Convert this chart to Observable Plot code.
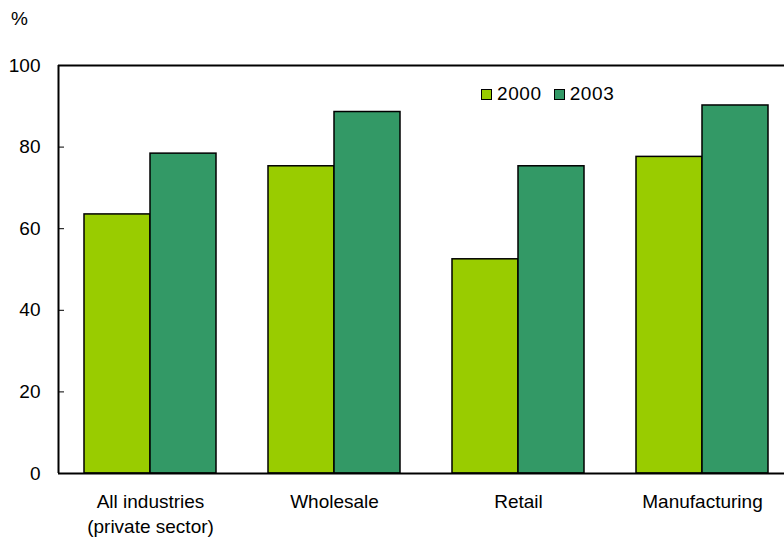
<!DOCTYPE html>
<html><head><meta charset="utf-8">
<script src="https://cdn.jsdelivr.net/npm/d3@7"></script>
<script src="https://cdn.jsdelivr.net/npm/@observablehq/plot@0.6"></script>
<style>
body{margin:0;background:#fff;font-family:"Liberation Sans",Arial,sans-serif;}
#wrap{position:relative;width:784px;height:540px;}
.leg{position:absolute;top:83px;left:481px;font-size:19px;letter-spacing:0.6px;display:flex;align-items:center;color:#000;}
.sw{display:inline-block;width:9px;height:9px;border:1.5px solid #000;margin-right:5px;}
</style></head><body>
<div id="wrap"></div>
<script>
const categories = ["All industries\n(private sector)", "Wholesale", "Retail", "Manufacturing"];
const years = ["2000", "2003"];
const values2000 = [63.5, 75.3, 52.5, 77.6];
const values2003 = [78.4, 88.6, 75.3, 90.2];
const yTicks = [0, 20, 40, 60, 80, 100];
const colors = ["#99CC00", "#339966"];

const data = [];
categories.forEach((c, i) => {
  data.push({category: c, year: years[0], value: values2000[i]});
  data.push({category: c, year: years[1], value: values2003[i]});
});

const chart = Plot.plot({
  width: 784,
  height: 540,
  marginLeft: 58,
  marginTop: 65,
  marginBottom: 67,
  marginRight: 0,
  style: {fontFamily: "'Liberation Sans', Arial, sans-serif", fontSize: "19px", color: "#000", background: "#fff"},
  x: {domain: categories, range: [58, 794], paddingInner: 0, paddingOuter: 0},
  y: {domain: [0, 100]},
  color: {domain: years, range: colors},
  marks: [
    Plot.barY(data.filter(d => d.year === years[0]), {x: "category", y: "value", fill: "year", stroke: "#000", strokeWidth: 1.5, insetLeft: 26, insetRight: 92}),
    Plot.barY(data.filter(d => d.year === years[1]), {x: "category", y: "value", fill: "year", stroke: "#000", strokeWidth: 1.5, insetLeft: 92, insetRight: 26}),
    Plot.ruleY([0], {stroke: "#000", strokeWidth: 2}),
    Plot.ruleY([100], {stroke: "#000", strokeWidth: 2}),
    Plot.ruleX([0], {x: () => categories[0], dx: -92, y1: 0, y2: 100, stroke: "#000", strokeWidth: 2}),
    Plot.axisY({ticks: yTicks, tickSize: -6, tickPadding: 24, label: null, fontSize: 19}),
    Plot.axisX({tickSize: 0, tickPadding: 17, label: null, fontSize: 19, lineHeight: 1.3, style: {letterSpacing: "0.9px"}})
  ]
});
document.getElementById("wrap").appendChild(chart);
const pct = document.createElement("div");
pct.textContent = "%";
pct.style.cssText = "position:absolute;left:11px;top:8px;font-size:19px;";
document.getElementById("wrap").appendChild(pct);
const leg = document.createElement("div");
leg.className = "leg";
years.forEach((y, i) => {
  const s = document.createElement("span"); s.className = "sw"; s.style.background = colors[i];
  const t = document.createElement("span"); t.textContent = y; t.style.marginRight = i === 0 ? "12px" : "0";
  leg.appendChild(s); leg.appendChild(t);
});
document.getElementById("wrap").appendChild(leg);
</script>
</body></html>
